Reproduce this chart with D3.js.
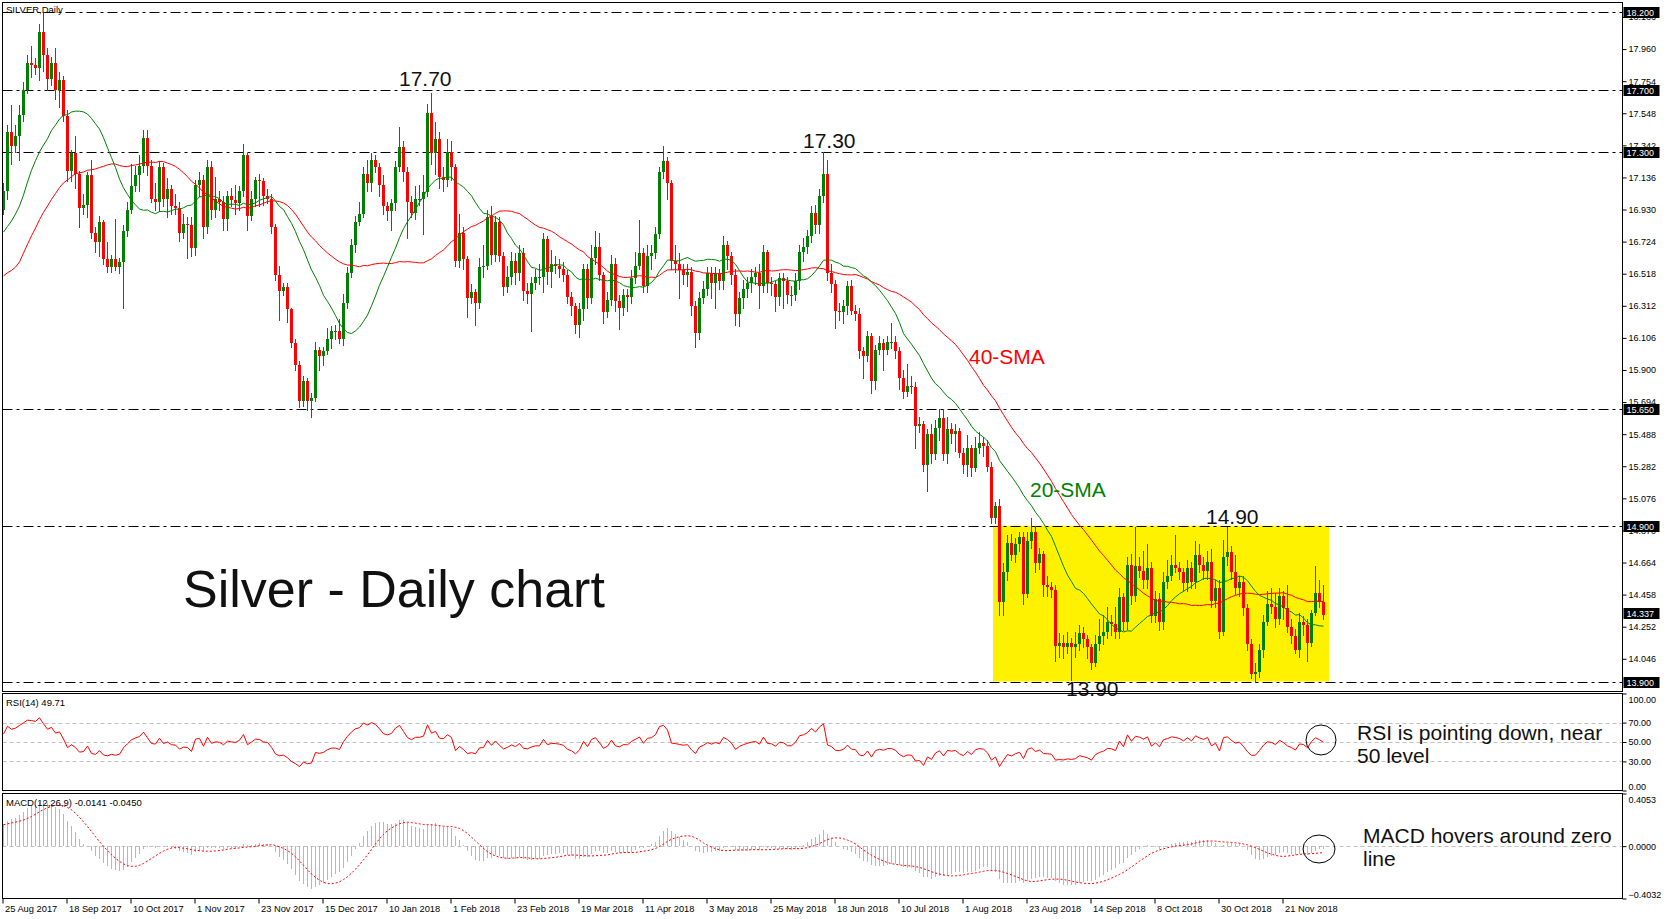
<!DOCTYPE html>
<html>
<head>
<meta charset="utf-8">
<script src="https://cdn.jsdelivr.net/npm/d3@7"></script>
<style>
  body { margin: 0; background: #fff; }
  svg { display: block; font-family: "Liberation Sans", Arial, sans-serif; }
</style>
</head>
<body>
<svg id="chart" width="1670" height="919"></svg>
<script>
// closes before the first visible bar, only used to warm up the indicators
const warmupCloses = [16.55,16.60,16.75,16.55,16.20,15.45,15.60,15.70,15.85,15.90,16.05,16.15,16.15,16.20,16.25,16.30,16.45,16.40,16.45,16.70,
  16.75,16.70,16.65,16.50,16.50,16.30,16.20,16.35,16.60,16.95,17.05,16.95,16.80,17.00,17.00,17.05,17.10,16.95,17.05,16.95];
const firstOpen = 16.93;

const closes = [17.05,17.43,17.34,17.40,17.54,17.70,17.87,17.86,17.84,18.07,
  17.92,17.77,17.87,17.70,17.76,17.53,17.18,17.29,17.16,16.94,
  16.96,17.15,16.78,16.72,16.85,16.61,16.56,16.61,16.56,16.59,
  16.79,16.93,17.08,17.15,17.21,17.39,17.21,17.00,16.98,17.20,
  17.00,17.06,16.95,16.94,16.78,16.84,16.83,16.68,17.09,17.12,
  16.82,17.20,16.93,17.00,16.98,16.87,17.02,16.99,16.97,17.05,
  17.28,16.89,17.00,17.12,17.11,17.02,17.00,16.82,16.51,16.41,
  16.43,16.29,16.07,15.93,15.70,15.83,15.70,15.72,16.03,15.99,
  16.02,16.10,16.15,16.15,16.10,16.33,16.52,16.70,16.85,16.90,
  17.16,17.10,17.25,17.20,17.09,16.95,16.92,16.97,17.20,17.33,
  17.17,16.98,16.91,17.00,17.00,17.04,17.55,17.29,17.38,17.14,
  17.12,17.30,17.20,16.60,16.78,16.61,16.36,16.40,16.33,16.56,
  16.57,16.88,16.64,16.85,16.63,16.43,16.50,16.60,16.52,16.65,
  16.41,16.39,16.46,16.50,16.50,16.74,16.53,16.58,16.57,16.55,
  16.51,16.37,16.31,16.19,16.29,16.55,16.36,16.62,16.69,16.51,
  16.27,16.35,16.58,16.34,16.30,16.38,16.37,16.49,16.57,16.65,
  16.44,16.63,16.65,16.77,17.17,17.24,17.10,16.60,16.58,16.54,
  16.51,16.53,16.31,16.14,16.36,16.42,16.52,16.46,16.52,16.47,
  16.70,16.63,16.51,16.26,16.36,16.42,16.46,16.50,16.52,16.44,
  16.66,16.46,16.45,16.37,16.49,16.47,16.38,16.38,16.47,16.66,
  16.69,16.76,16.91,16.83,17.02,17.16,16.52,16.45,16.28,16.27,
  16.31,16.44,16.28,16.26,16.02,15.99,16.12,15.83,16.03,16.07,
  16.03,16.08,16.08,16.02,15.85,15.76,15.80,15.79,15.54,15.55,
  15.29,15.49,15.36,15.53,15.59,15.36,15.52,15.49,15.51,15.37,
  15.29,15.40,15.27,15.40,15.43,15.41,15.28,14.95,15.03,14.41,
  14.60,14.79,14.71,14.78,14.83,14.46,14.80,14.86,14.66,14.72,
  14.52,14.51,14.49,14.13,14.15,14.12,14.15,14.12,14.14,14.21,
  14.17,14.12,14.02,14.14,14.19,14.22,14.28,14.27,14.22,14.44,
  14.28,14.65,14.45,14.64,14.61,14.55,14.63,14.32,14.43,14.28,
  14.54,14.58,14.65,14.63,14.60,14.53,14.63,14.54,14.71,14.65,
  14.61,14.67,14.42,14.50,14.22,14.70,14.73,14.60,14.50,14.54,
  14.37,14.14,13.95,13.96,14.10,14.28,14.40,14.38,14.30,14.45,
  14.37,14.25,14.19,14.10,14.28,14.26,14.15,14.34,14.47,14.41,14.33];

const highs = [17.10,17.47,17.60,17.47,17.60,17.75,17.92,17.98,17.90,18.12,
  18.19,17.97,17.91,17.97,17.81,17.79,17.57,17.31,17.40,17.18,
  17.03,17.17,17.25,16.82,16.89,16.86,16.72,16.64,16.87,16.62,
  16.83,16.98,17.22,17.21,17.28,17.44,17.44,17.25,17.10,17.24,
  17.23,17.13,17.09,17.03,16.98,16.90,16.88,16.88,17.12,17.17,
  17.15,17.25,17.24,17.14,17.05,17.02,17.05,17.07,17.09,17.08,
  17.35,17.29,17.05,17.14,17.16,17.13,17.06,17.03,16.84,16.57,
  16.46,16.46,16.30,16.10,15.96,15.86,15.85,15.75,16.08,16.05,
  16.05,16.17,16.18,16.19,16.23,16.39,16.56,16.74,16.89,16.98,
  17.20,17.25,17.29,17.28,17.23,17.15,16.98,17.00,17.24,17.46,
  17.37,17.20,17.02,17.08,17.09,17.15,17.61,17.68,17.49,17.43,
  17.20,17.38,17.37,17.22,16.90,16.82,16.63,16.45,16.42,16.62,
  16.70,16.93,16.95,16.89,16.88,16.66,16.57,16.66,16.65,16.70,
  16.68,16.46,16.50,16.55,16.58,16.78,16.76,16.67,16.63,16.61,
  16.59,16.54,16.40,16.33,16.33,16.58,16.58,16.70,16.79,16.78,
  16.53,16.40,16.64,16.62,16.38,16.42,16.42,16.54,16.66,16.86,
  16.68,16.70,16.70,16.82,17.20,17.34,17.27,17.12,16.70,16.65,
  16.58,16.58,16.56,16.34,16.40,16.47,16.56,16.56,16.56,16.55,
  16.76,16.73,16.66,16.55,16.40,16.48,16.50,16.55,16.56,16.58,
  16.70,16.67,16.50,16.47,16.52,16.52,16.50,16.44,16.52,16.70,
  16.75,16.80,16.95,16.96,17.06,17.30,17.25,16.58,16.48,16.33,
  16.35,16.47,16.48,16.32,16.30,16.05,16.15,16.14,16.06,16.12,
  16.10,16.12,16.20,16.12,16.05,15.90,15.94,15.86,15.82,15.60,
  15.57,15.52,15.55,15.58,15.65,15.65,15.60,15.56,15.55,15.53,
  15.40,15.48,15.42,15.47,15.50,15.47,15.45,15.31,15.05,15.07,
  14.66,14.84,14.85,14.82,14.86,14.86,14.86,14.95,14.90,14.76,
  14.74,14.58,14.54,14.52,14.21,14.20,14.22,14.18,14.22,14.26,
  14.25,14.20,14.14,14.20,14.30,14.33,14.38,14.33,14.38,14.50,
  14.47,14.70,14.72,14.89,14.70,14.74,14.78,14.67,14.48,14.47,
  14.60,14.68,14.71,14.84,14.67,14.63,14.68,14.67,14.80,14.78,
  14.70,14.74,14.75,14.55,14.55,14.81,14.89,14.77,14.71,14.58,
  14.58,14.40,14.17,14.02,14.14,14.33,14.48,14.50,14.47,14.50,
  14.48,14.52,14.30,14.24,14.34,14.32,14.30,14.36,14.64,14.55,14.52];

const lows = [16.90,17.00,17.22,17.30,17.25,17.50,17.68,17.78,17.80,17.76,
  17.82,17.70,17.73,17.64,17.59,17.50,17.11,17.11,17.07,16.82,
  16.90,16.88,16.75,16.66,16.63,16.58,16.53,16.53,16.54,16.52,
  16.30,16.76,16.91,17.05,17.05,17.17,17.15,16.98,16.93,16.92,
  16.95,16.88,16.90,16.90,16.73,16.75,16.62,16.63,16.64,17.02,
  16.75,16.78,16.87,16.88,16.93,16.80,16.80,16.95,16.90,16.93,
  17.02,16.80,16.86,16.95,16.95,16.96,16.97,16.78,16.48,16.22,
  16.38,16.21,16.05,15.90,15.66,15.67,15.64,15.60,15.70,15.90,
  15.93,16.00,16.04,16.10,16.07,16.06,16.30,16.50,16.66,16.83,
  16.88,17.05,17.05,17.17,17.02,16.90,16.86,16.80,16.93,17.18,
  17.11,16.75,16.88,16.87,16.96,16.77,17.02,17.22,17.16,17.07,
  17.05,17.08,17.12,16.57,16.56,16.55,16.24,16.33,16.19,16.30,
  16.50,16.55,16.58,16.60,16.60,16.38,16.40,16.45,16.45,16.48,
  16.35,16.33,16.15,16.42,16.45,16.40,16.45,16.43,16.52,16.50,
  16.47,16.33,16.25,16.14,16.11,16.22,16.30,16.33,16.58,16.48,
  16.20,16.24,16.32,16.28,16.16,16.25,16.28,16.33,16.46,16.55,
  16.40,16.40,16.55,16.62,16.75,17.13,17.00,16.55,16.53,16.36,
  16.45,16.44,16.25,16.05,16.10,16.33,16.38,16.36,16.30,16.42,
  16.42,16.55,16.45,16.19,16.18,16.30,16.37,16.40,16.45,16.30,
  16.40,16.40,16.38,16.28,16.32,16.30,16.33,16.32,16.35,16.42,
  16.60,16.65,16.72,16.78,16.78,16.98,16.48,16.40,16.17,16.22,
  16.20,16.26,16.26,16.22,15.98,15.85,15.96,15.75,15.78,16.00,
  15.90,16.00,16.04,15.98,15.78,15.72,15.73,15.75,15.40,15.50,
  15.25,15.12,15.30,15.33,15.45,15.32,15.30,15.43,15.38,15.34,
  15.24,15.22,15.22,15.25,15.37,15.35,15.25,14.92,14.92,14.33,
  14.33,14.55,14.68,14.67,14.74,14.40,14.44,14.76,14.60,14.62,
  14.45,14.45,14.44,14.03,14.06,14.05,14.08,13.91,14.06,14.10,
  14.12,14.05,13.98,14.00,14.10,14.14,14.18,14.20,14.18,14.18,
  14.23,14.24,14.40,14.42,14.57,14.50,14.50,14.28,14.28,14.23,
  14.24,14.50,14.55,14.60,14.56,14.48,14.48,14.50,14.50,14.60,
  14.56,14.56,14.38,14.38,14.18,14.20,14.65,14.56,14.46,14.45,
  14.33,14.10,13.92,13.90,13.93,14.06,14.26,14.34,14.25,14.27,
  14.30,14.22,14.15,14.08,14.06,14.20,14.03,14.13,14.33,14.38,14.30];

const dateLabels = ['25 Aug 2017','18 Sep 2017','10 Oct 2017','1 Nov 2017','23 Nov 2017','15 Dec 2017',
  '10 Jan 2018','1 Feb 2018','23 Feb 2018','19 Mar 2018','11 Apr 2018','3 May 2018','25 May 2018',
  '18 Jun 2018','10 Jul 2018','1 Aug 2018','23 Aug 2018','14 Sep 2018','8 Oct 2018','30 Oct 2018','21 Nov 2018'];
const barsPerDateTick = 16;
const priceTicks = [14.046,14.252,14.458,14.664,14.870,15.076,15.282,15.488,15.694,15.900,16.106,
  16.312,16.518,16.724,16.930,17.136,17.342,17.548,17.754,17.960,18.166];
const levels = [18.2, 17.7, 17.3, 15.65, 14.9, 13.9];
const lastPrice = 14.337;
const rangeBox = {from: 248, to: 332, top: 14.9, bottom: 13.9};
const rsiTicks = [100, 70, 50, 30, 0];
const rsiLevels = [70, 50, 30];
const macdTicks = [0.4053, 0, -0.4032];

const svg = d3.select('#chart');
const L = 2.5, R = 1622.5;

const x = d3.scaleLinear().domain([0, 405]).range([3, 1623]);
const yP = d3.scaleLinear().domain([13.836, 18.259]).range([691.5, 2.5]);
const yR = d3.scaleLinear().domain([0, 100]).range([790.5, 693.5]);
const yM = d3.scaleLinear().domain([-0.4032, 0.4053]).range([898.5, 793.5]);

// indicators
const all = warmupCloses.concat(closes);
const off = warmupCloses.length;
function sma(vals, n, k) { return d3.mean(vals.slice(k - n + 1, k + 1)); }
function ema(vals, n) {
  const a = 2 / (n + 1), out = [vals[0]];
  for (let k = 1; k < vals.length; k++) out.push(a * vals[k] + (1 - a) * out[k - 1]);
  return out;
}
function rsi(vals, n) {
  const out = new Array(vals.length).fill(null);
  let g = 0, l = 0;
  for (let k = 1; k <= n; k++) { const d = vals[k] - vals[k - 1]; if (d > 0) g += d; else l -= d; }
  g /= n; l /= n; out[n] = 100 - 100 / (1 + g / l);
  for (let k = n + 1; k < vals.length; k++) {
    const d = vals[k] - vals[k - 1];
    g = (g * (n - 1) + Math.max(d, 0)) / n;
    l = (l * (n - 1) + Math.max(-d, 0)) / n;
    out[k] = l === 0 ? 100 : 100 - 100 / (1 + g / l);
  }
  return out;
}
const sma20 = closes.map((_, i) => sma(all, 20, i + off));
const sma40 = closes.map((_, i) => sma(all, 40, i + off));
const rsiAll = rsi(all, 14);
const e12 = ema(all, 12), e26 = ema(all, 26);
const macdAll = all.map((_, k) => e12[k] - e26[k]);
const macd = closes.map((_, i) => macdAll[i + off]);
const signal = closes.map((_, i) => sma(macdAll, 9, i + off));
const rsiVis = closes.map((_, i) => rsiAll[i + off]);

const bars = closes.map((c, i) => {
  const o = i ? closes[i - 1] : firstOpen;
  return {i, o, c, h: Math.max(highs[i], o, c), l: Math.min(lows[i], o, c)};
});

// range box
svg.append('rect')
  .attr('x', Math.round(x(rangeBox.from)) - 2).attr('y', yP(rangeBox.top))
  .attr('width', x(rangeBox.to) - x(rangeBox.from)).attr('height', yP(rangeBox.bottom) - yP(rangeBox.top))
  .attr('fill', '#fff200');

// horizontal levels
svg.append('g').selectAll('line').data(levels).enter().append('line')
  .attr('x1', L).attr('x2', R)
  .attr('y1', d => Math.round(yP(d)) + 0.5).attr('y2', d => Math.round(yP(d)) + 0.5)
  .attr('stroke', '#000').attr('stroke-width', 1).attr('stroke-dasharray', '10,4,3,4');

// candles
const cg = svg.append('g').attr('shape-rendering', 'crispEdges');
const col = d => d.c >= d.o ? '#008000' : '#ff0000';
cg.selectAll('line').data(bars).enter().append('line')
  .attr('x1', d => Math.round(x(d.i)) + 0.5).attr('x2', d => Math.round(x(d.i)) + 0.5)
  .attr('y1', d => Math.round(yP(d.h))).attr('y2', d => Math.round(yP(d.l)) + 1)
  .attr('stroke', col);
cg.selectAll('rect').data(bars).enter().append('rect')
  .attr('x', d => Math.round(x(d.i)) - 1).attr('width', 3)
  .attr('y', d => Math.round(yP(Math.max(d.o, d.c))))
  .attr('height', d => Math.max(1, Math.round(yP(Math.min(d.o, d.c))) - Math.round(yP(Math.max(d.o, d.c)))))
  .attr('fill', col);

// moving averages
const lineP = d3.line().x((d, i) => x(i) + 0.5).y(d => yP(d));
svg.append('path').attr('d', lineP(sma40)).attr('fill', 'none').attr('stroke', '#ff0000').attr('stroke-width', 1);
svg.append('path').attr('d', lineP(sma20)).attr('fill', 'none').attr('stroke', '#008000').attr('stroke-width', 1);

// RSI panel
svg.append('g').selectAll('line').data(rsiLevels).enter().append('line')
  .attr('x1', L).attr('x2', R).attr('y1', d => Math.round(yR(d)) + 0.5).attr('y2', d => Math.round(yR(d)) + 0.5)
  .attr('stroke', '#c0c0c0').attr('stroke-dasharray', '4,3');
svg.append('path').attr('d', d3.line().x((d, i) => x(i) + 0.5).y(d => yR(d))(rsiVis))
  .attr('fill', 'none').attr('stroke', '#ff0000').attr('stroke-width', 1);

// MACD panel
svg.append('line').attr('x1', L).attr('x2', R).attr('y1', Math.round(yM(0)) + 0.5).attr('y2', Math.round(yM(0)) + 0.5)
  .attr('stroke', '#c0c0c0').attr('stroke-dasharray', '4,3');
svg.append('g').attr('shape-rendering', 'crispEdges').selectAll('line').data(macd).enter().append('line')
  .attr('x1', (d, i) => Math.round(x(i)) + 0.5).attr('x2', (d, i) => Math.round(x(i)) + 0.5)
  .attr('y1', Math.round(yM(0))).attr('y2', d => Math.round(yM(d)))
  .attr('stroke', '#b8b8b8');
svg.append('path').attr('d', d3.line().x((d, i) => x(i) + 0.5).y(d => yM(d))(signal))
  .attr('fill', 'none').attr('stroke', '#ff0000').attr('stroke-width', 1).attr('stroke-dasharray', '2,2');

// annotations
const ann = svg.append('g').attr('fill', '#111').style('font-size', '21px');
ann.append('text').attr('x', 399).attr('y', 86).text('17.70');
ann.append('text').attr('x', 803).attr('y', 148).text('17.30');
ann.append('text').attr('x', 1206).attr('y', 524).text('14.90');
ann.append('text').attr('x', 1066).attr('y', 696).text('13.90');
ann.append('text').attr('x', 969).attr('y', 364).attr('fill', '#ff0000').text('40-SMA');
ann.append('text').attr('x', 1030).attr('y', 497).attr('fill', '#008000').text('20-SMA');
ann.append('text').attr('x', 183).attr('y', 607).style('font-size', '52px').text('Silver - Daily chart');
ann.append('text').attr('x', 1357).attr('y', 740).text('RSI is pointing down, near');
ann.append('text').attr('x', 1357).attr('y', 763).text('50 level');
ann.append('text').attr('x', 1363).attr('y', 843).text('MACD hovers around zero');
ann.append('text').attr('x', 1363).attr('y', 866).text('line');
svg.append('circle').attr('cx', 1321).attr('cy', 740).attr('r', 15).attr('fill', 'none').attr('stroke', '#000');
svg.append('ellipse').attr('cx', 1319).attr('cy', 849).attr('rx', 16).attr('ry', 14).attr('fill', 'none').attr('stroke', '#000');

// panel frames
const frames = [[2.5, 691.5], [693.5, 790.5], [793.5, 898.5]];
svg.append('g').selectAll('rect').data(frames).enter().append('rect')
  .attr('x', L).attr('y', d => d[0]).attr('width', R - L).attr('height', d => d[1] - d[0])
  .attr('fill', 'none').attr('stroke', '#000');

// panel titles
const small = svg.append('g').style('font-size', '9.5px').attr('fill', '#000');
small.append('text').attr('x', 6).attr('y', 13).text('SILVER,Daily');
small.append('text').attr('x', 6).attr('y', 706).text('RSI(14) 49.71');
small.append('text').attr('x', 6).attr('y', 806).text('MACD(12,26,9) -0.0141 -0.0450');

// axes
function styleAxis(g) {
  g.select('.domain').remove();
  g.attr('font-family', null).attr('font-size', null).style('font-size', '9px');
  g.selectAll('line').attr('stroke', '#000');
  g.selectAll('text').attr('fill', '#000');
}
svg.append('g').attr('transform', `translate(${R},0)`)
  .call(d3.axisRight(yP).tickValues(priceTicks).tickSize(4).tickPadding(2).tickFormat(d3.format('.3f')))
  .call(styleAxis);
const rAx = svg.append('g').attr('transform', `translate(${R},0)`)
  .call(d3.axisRight(yR).tickValues(rsiTicks).tickSize(4).tickPadding(2).tickFormat(d3.format('.2f')))
  .call(styleAxis);
rAx.selectAll('text').attr('dy', d => d === 100 ? '0.95em' : d === 0 ? '-0.1em' : '0.32em');
const mAx = svg.append('g').attr('transform', `translate(${R},0)`)
  .call(d3.axisRight(yM).tickValues(macdTicks).tickSize(4).tickPadding(2).tickFormat(d3.format('.4f')))
  .call(styleAxis);
mAx.selectAll('text').attr('dy', (d, k) => k === 0 ? '0.95em' : k === 2 ? '-0.1em' : '0.32em');

const dateIdx = dateLabels.map((_, k) => k * barsPerDateTick);
const xAx = svg.append('g').attr('transform', 'translate(0,898.5)')
  .call(d3.axisBottom(x).tickValues(dateIdx).tickSize(5).tickFormat((d, k) => dateLabels[k]))
  .call(styleAxis);
xAx.selectAll('.tick').attr('transform', d => `translate(${Math.round(x(d))},0)`);
xAx.selectAll('text').attr('text-anchor', 'start').attr('x', 2).attr('y', 7).style('font-size', '9.3px');

// price level tags
const tags = levels.concat([lastPrice]);
const tg = svg.append('g');
tg.selectAll('rect').data(tags).enter().append('rect')
  .attr('x', R + 1).attr('y', d => Math.round(yP(d)) - 5).attr('width', 36).attr('height', 11).attr('fill', '#000');
tg.selectAll('text').data(tags).enter().append('text')
  .attr('x', R + 4).attr('y', d => Math.round(yP(d)) + 4)
  .attr('fill', '#fff').style('font-size', '9px').text(d3.format('.3f'));
</script>
</body>
</html>
